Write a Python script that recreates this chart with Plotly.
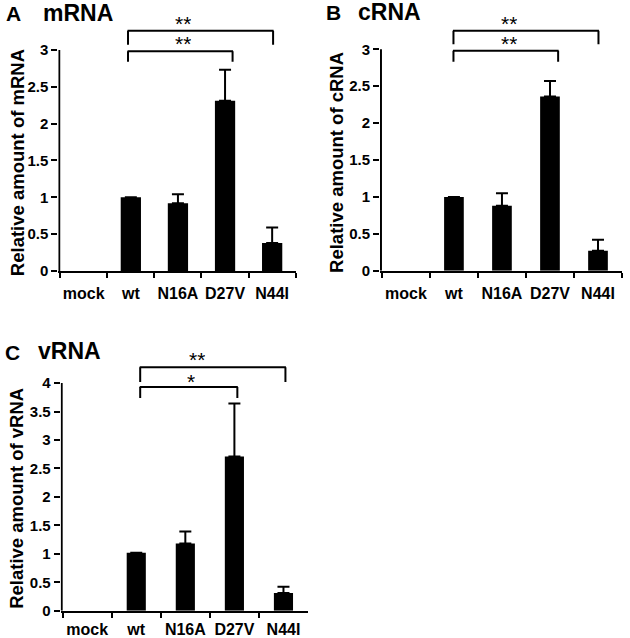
import plotly.graph_objects as go

# ---------------- data ----------------
categories = ["mock", "wt", "N16A", "D27V", "N44I"]

mrna_mean = [None, 1.00, 0.92, 2.31, 0.38]
mrna_err = [None, None, 0.12, 0.42, 0.21]

crna_mean = [None, 1.00, 0.88, 2.36, 0.27]
crna_err = [None, None, 0.17, 0.21, 0.15]

vrna_mean = [None, 1.02, 1.18, 2.71, 0.31]
vrna_err = [None, None, 0.21, 0.93, 0.11]

# significance comparisons: (from, to, label)
mrna_sig = [("wt", "N44I", "**"), ("wt", "D27V", "**")]
crna_sig = [("wt", "N44I", "**"), ("wt", "D27V", "**")]
vrna_sig = [("wt", "N44I", "**"), ("wt", "D27V", "*")]

panel_letters = ["A", "B", "C"]
panel_titles = ["mRNA", "cRNA", "vRNA"]
y_titles = ["Relative amount of mRNA", "Relative amount of cRNA", "Relative amount of vRNA"]
y_ticks_3 = [0, 0.5, 1, 1.5, 2, 2.5, 3]
y_ticks_4 = [0, 0.5, 1, 1.5, 2, 2.5, 3, 3.5, 4]

# ---------------- layout helpers ----------------
W, H = 630, 638
FONT = "Liberation Sans, Arial, Helvetica, sans-serif"


def px_x(p):
    return p / W


def px_y(p):
    return 1 - p / H


# per-panel geometry (pixels) and bracket placement (axis units)
# br entries: (bracket height, leg bottom, offset at start, offset at end, star x, star pixel lift)
panels = [
    dict(mean=mrna_mean, err=mrna_err, sig=mrna_sig, ticks=y_ticks_3, ymax_axis=3,
         xdom=(58.3, 295.7), ydom=(26.3, 271.0), yrange=3.32, bw=0.43, standoff=7,
         br=[(3.26, 3.07, -0.06, 0.02, 2.11, 8.5), (2.98, 2.84, -0.06, 0.16, 2.11, 9)],
         ytitle_x=17.5, ytitle_y=1.47,
         letter=(4, 13), title=(40.5, 13)),
    dict(mean=crna_mean, err=crna_err, sig=crna_sig, ticks=y_ticks_3, ymax_axis=3,
         xdom=(380.0, 622.0), ydom=(25.7, 270.7), yrange=3.32, bw=0.41, standoff=7,
         br=[(3.25, 3.07, -0.01, 0.01, 2.14, 8.5), (2.98, 2.83, -0.01, 0.17, 2.14, 8.5)],
         ytitle_x=336.7, ytitle_y=1.47,
         letter=(324, 12.5), title=(356, 12.5)),
    dict(mean=vrna_mean, err=vrna_err, sig=vrna_sig, ticks=y_ticks_4, ymax_axis=4,
         xdom=(60.7, 308.0), ydom=(363.2, 610.7), yrange=4.35, bw=0.39, standoff=3,
         br=[(4.28, 4.02, 0.08, 0.04, 2.24, 9), (3.93, 3.74, 0.08, 0.06, 2.12, 7.5)],
         ytitle_x=15.8, ytitle_y=1.98,
         letter=(3, 352), title=(36, 351)),
]

XR0 = -0.54
fig = go.Figure()
shapes = []
annotations = []
layout_axes = {}

for i, p in enumerate(panels):
    n = "" if i == 0 else str(i + 1)
    xa, ya = "x" + n, "y" + n
    fig.add_trace(go.Bar(
        x=categories, y=p["mean"], xaxis=xa, yaxis=ya,
        width=p["bw"], marker=dict(color="black", line=dict(width=0)),
        error_y=dict(type="data", symmetric=False, array=p["err"],
                     arrayminus=[0 if e is not None else None for e in p["err"]],
                     color="black", thickness=2, width=6),
        showlegend=False, hoverinfo="skip",
    ))
    layout_axes["xaxis" + n] = dict(
        domain=[px_x(p["xdom"][0]), px_x(p["xdom"][1])], anchor=ya,
        type="category", categoryorder="array", categoryarray=categories,
        range=[XR0, 4.5], showline=True, linecolor="black", linewidth=2,
        ticks="outside", tickson="boundaries", ticklen=5, tickwidth=2, tickcolor="black",
        showgrid=False, zeroline=False, ticklabelstandoff=p["standoff"], tickangle=0,
        tickfont=dict(family=FONT, size=16, color="black", weight="bold"),
        automargin=False, fixedrange=True,
    )
    layout_axes["yaxis" + n] = dict(
        domain=[px_y(p["ydom"][1]), px_y(p["ydom"][0])], anchor=xa,
        range=[0, p["yrange"]], showline=False, showgrid=False, zeroline=False,
        tickvals=p["ticks"], ticktext=[f"{t:g}" for t in p["ticks"]],
        ticks="outside", ticklen=6, tickwidth=2, tickcolor="black",
        tickfont=dict(family=FONT, size=15, color="black", weight="bold"),
        automargin=False, fixedrange=True,
    )
    # y axis line only up to the last tick
    shapes.append(dict(type="line", xref=xa, yref=ya, x0=-0.52, x1=-0.52, y0=0,
                       y1=p["ymax_axis"], line=dict(color="black", width=2)))
    # significance brackets
    for (a, b, lab), (ytop, yleg, oa, ob, sx, lift) in zip(p["sig"], p["br"]):
        xa0 = categories.index(a) + oa
        xb0 = categories.index(b) + ob
        ln = dict(color="black", width=2)
        shapes.append(dict(type="line", xref=xa, yref=ya, x0=xa0 - 0.01, x1=xb0 + 0.01, y0=ytop, y1=ytop, line=ln))
        shapes.append(dict(type="line", xref=xa, yref=ya, x0=xa0, x1=xa0, y0=yleg, y1=ytop, line=ln))
        shapes.append(dict(type="line", xref=xa, yref=ya, x0=xb0, x1=xb0, y0=yleg, y1=ytop, line=ln))
        annotations.append(dict(xref=xa, yref=ya, x=sx, y=ytop, text=lab, showarrow=False,
                                xanchor="center", yanchor="middle", yshift=lift - 1,
                                height=16, valign="middle", borderpad=0,
                                font=dict(family=FONT, size=21, color="black")))
    # y axis title
    annotations.append(dict(xref="paper", yref=ya, x=px_x(p["ytitle_x"]), y=p["ytitle_y"],
                            text=y_titles[i], textangle=-90, showarrow=False,
                            xanchor="center", yanchor="middle",
                            font=dict(family=FONT, size=18.5, color="black", weight="bold")))
    # panel letter and title
    annotations.append(dict(xref="paper", yref="paper", x=px_x(p["letter"][0]), y=px_y(p["letter"][1]),
                            text=panel_letters[i], showarrow=False, xanchor="left", yanchor="middle",
                            font=dict(family=FONT, size=21, color="black", weight="bold")))
    annotations.append(dict(xref="paper", yref="paper", x=px_x(p["title"][0]), y=px_y(p["title"][1]),
                            text=panel_titles[i], showarrow=False, xanchor="left", yanchor="middle",
                            font=dict(family=FONT, size=23, color="black", weight="bold")))

fig.update_layout(
    width=W, height=H, margin=dict(l=0, r=0, t=0, b=0, autoexpand=False),
    paper_bgcolor="white", plot_bgcolor="white",
    barmode="overlay", showlegend=False,
    shapes=shapes, annotations=annotations,
    font=dict(family=FONT, color="black"),
    **layout_axes,
)

fig.write_html(
    "out.html",
    config={"displayModeBar": False, "staticPlot": True},
    post_script="document.body.style.margin='0';document.body.style.overflow='hidden';",
)
